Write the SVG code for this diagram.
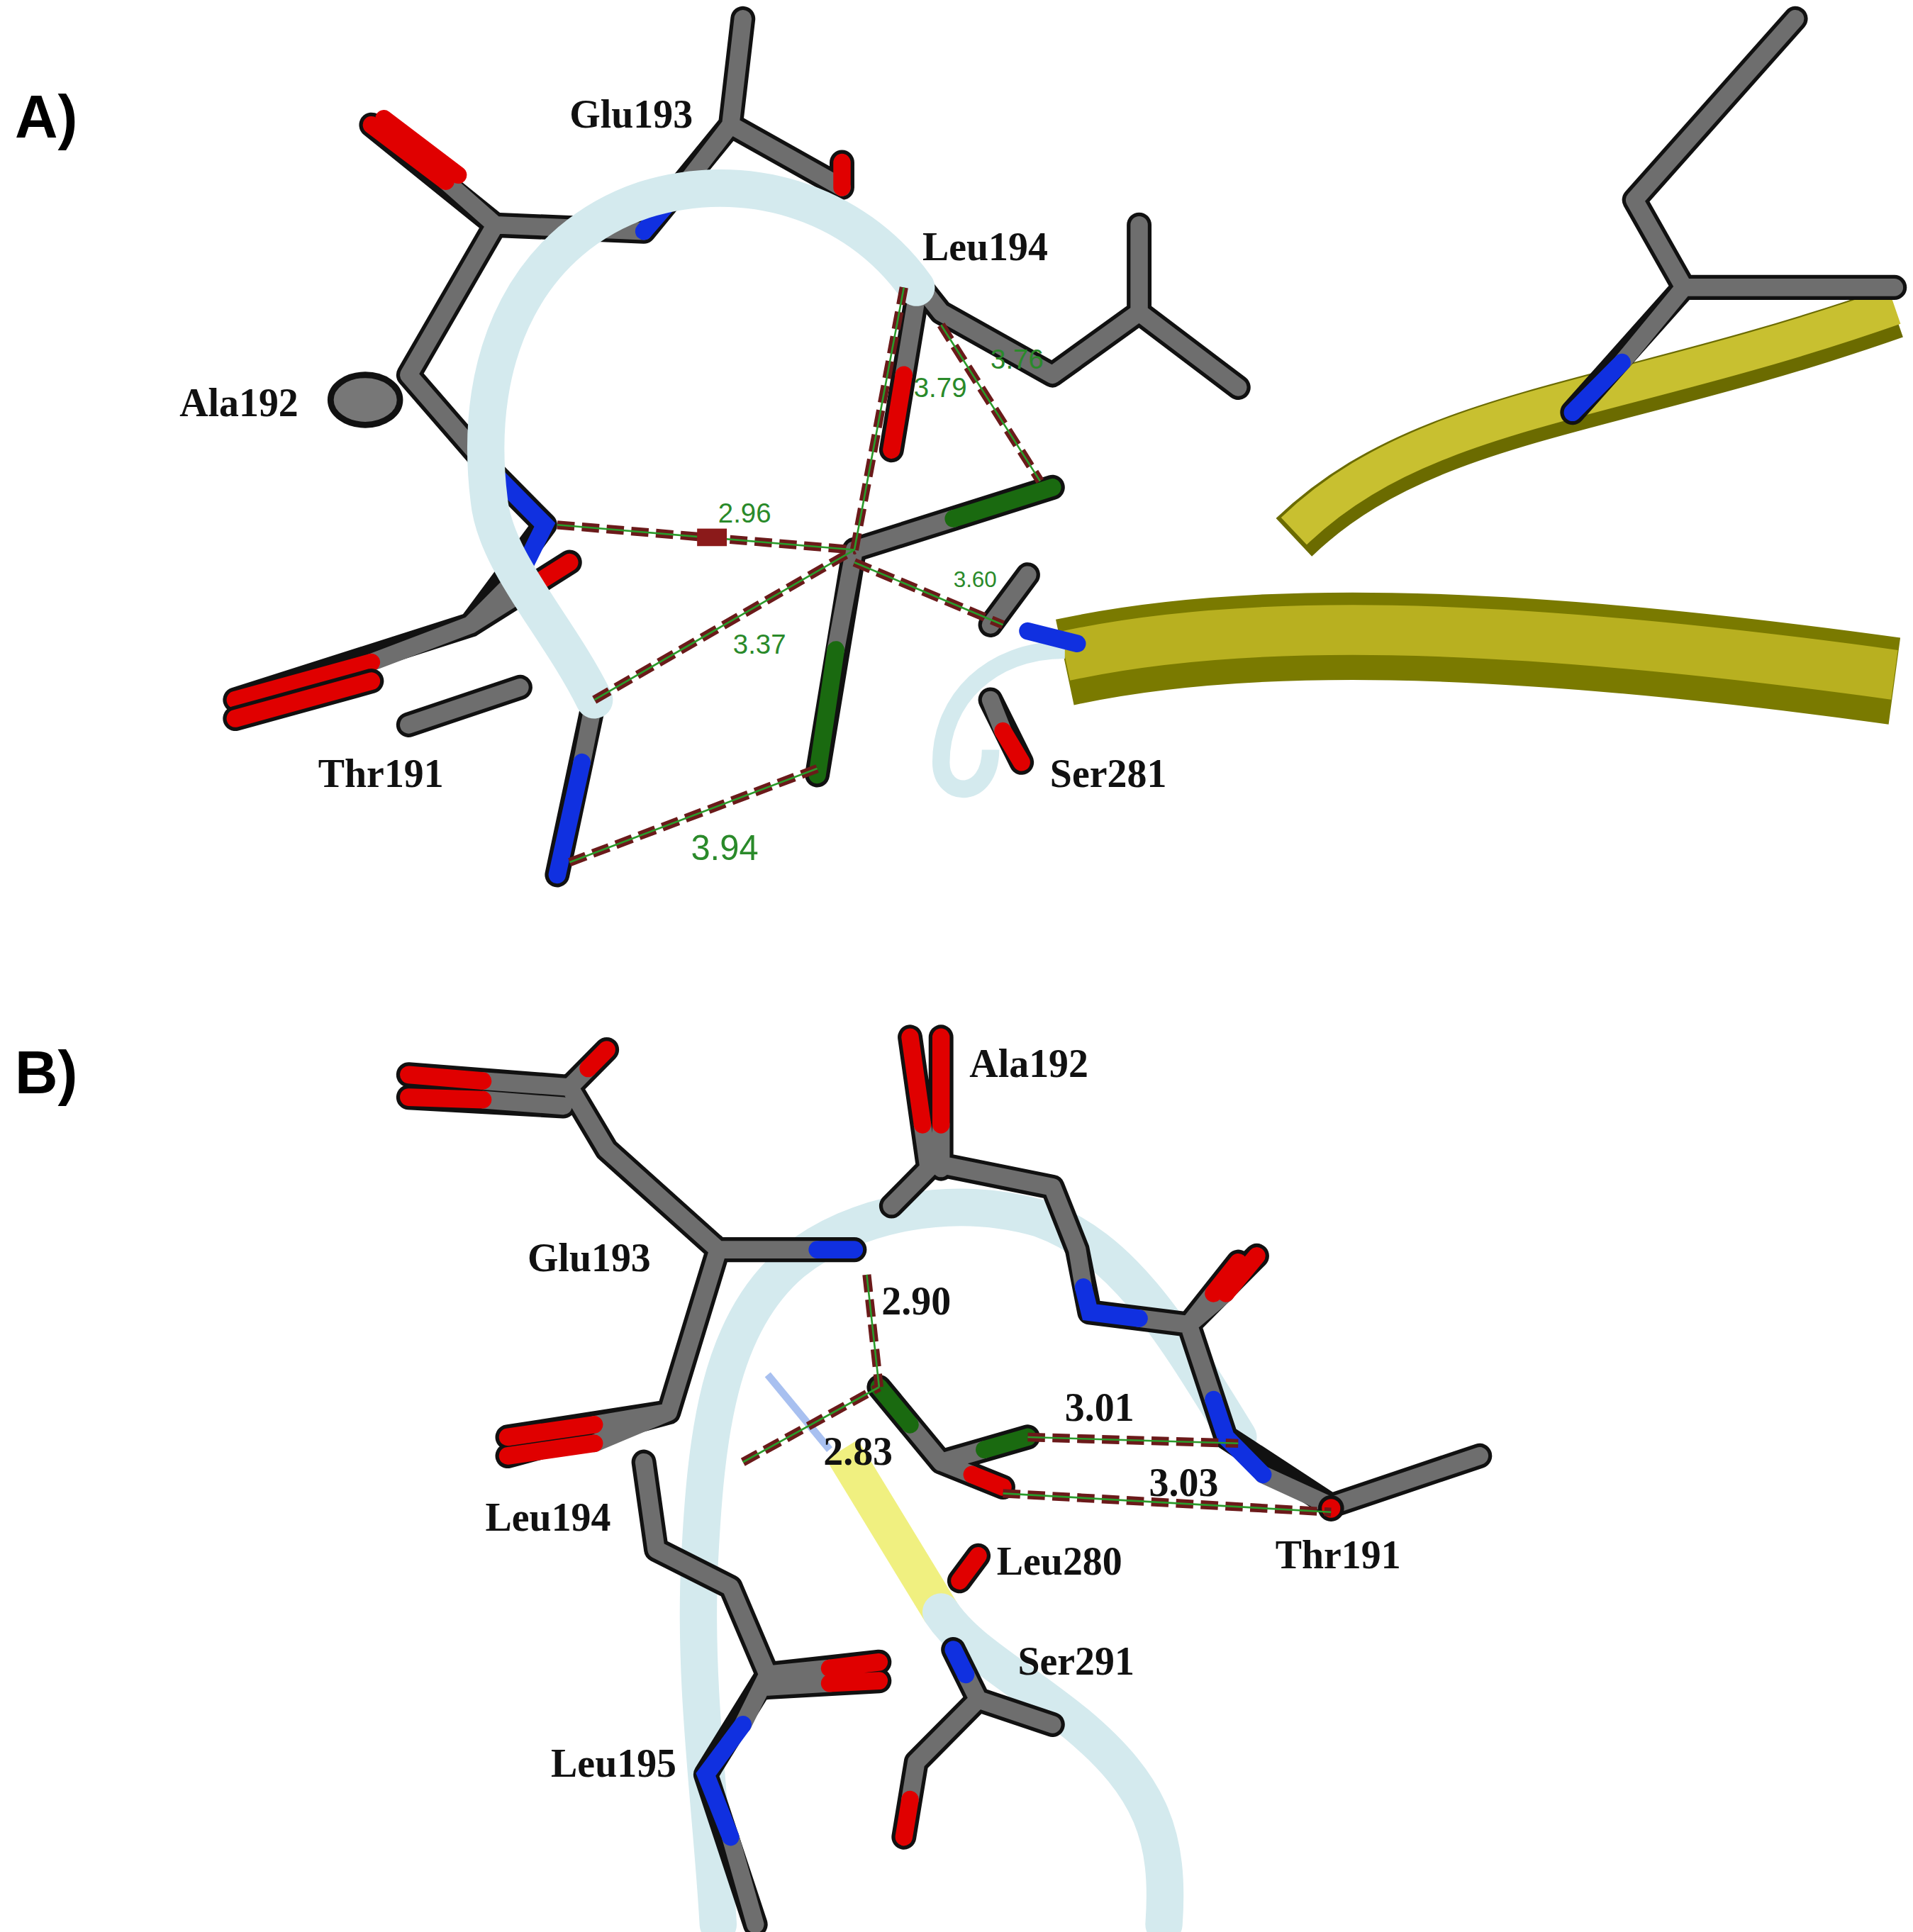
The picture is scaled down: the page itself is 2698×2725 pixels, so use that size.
<svg xmlns="http://www.w3.org/2000/svg" width="2698" height="2725" viewBox="0 0 2698 2725">
<style>
.o{fill:none;stroke:#111;stroke-width:20;stroke-linecap:round;stroke-linejoin:round}
.g{fill:none;stroke:#6e6e6e;stroke-width:14;stroke-linecap:round;stroke-linejoin:round}
.r{fill:none;stroke:#e00000;stroke-width:14;stroke-linecap:round}
.b{fill:none;stroke:#1030e0;stroke-width:14;stroke-linecap:round}
.gr{fill:none;stroke:#1a6a10;stroke-width:14;stroke-linecap:round}
.rib{fill:none;stroke:#d4eaee;stroke-width:30;stroke-linecap:round}
.d{stroke:#6b1a1a;stroke-width:7;stroke-dasharray:14 6;fill:none}
.t{stroke:#2a9a2a;stroke-width:1.5;fill:none}
.lab{font-family:"Liberation Serif",serif;font-weight:bold;font-size:32px;fill:#111}
.num{font-family:"Liberation Sans",sans-serif;font-size:22px;fill:#2a8a2a}
.numb{font-family:"Liberation Serif",serif;font-weight:bold;font-size:32px;fill:#111}
.pan{font-family:"Liberation Sans",sans-serif;font-weight:bold;font-size:48px;fill:#000}
</style>
<rect width="2698" height="2725" fill="#fff"/>
<g transform="scale(1.7463,1.7626)">
<text class="pan" x="12" y="110">A)</text>
<text class="pan" x="12" y="875">B)</text>
<!-- Panel A -->
<g id="ribbonsA">
<path d="M1045,430 C1150,330 1300,330 1530,250" stroke="#6b6b00" stroke-width="42" fill="none"/>
<path d="M1045,425 C1150,325 1300,325 1530,245" stroke="#c8c030" stroke-width="30" fill="none"/>
<path d="M860,530 C1000,500 1200,500 1530,545" stroke="#7a7a00" stroke-width="70" fill="none"/>
<path d="M860,525 C1000,495 1200,495 1530,540" stroke="#b8b020" stroke-width="40" fill="none"/>
<path d="M860,520 C800,520 760,560 760,610 C760,640 800,640 800,600" stroke="#d4eaee" stroke-width="14" fill="none"/>
</g>
<g id="sticksA">
<path class="o" d="M600,15 L590,100 L520,185 M590,100 L680,150 L680,130 M400,180 L520,185 M400,180 L300,100 M400,180 L330,300 L400,380 L440,420 M440,420 L380,500 L190,560 M380,500 L460,450 M480,560 L450,700 M330,580 L420,550 M720,200 L760,250 L850,300 L920,250 L1000,310 M920,250 L920,180 M740,240 L720,360 M690,440 L850,390 M690,440 L660,620 M800,500 L830,460 M800,560 L825,610 M1450,15 L1320,160 L1360,230 L1270,330 M1360,230 L1530,230"/>
<path class="g" d="M600,15 L590,100 L555,145 M590,100 L680,150 M400,180 L520,185 M400,180 L360,145 M400,180 L330,300 L400,380 M420,460 L380,500 L300,530 M380,500 L420,475 M480,560 L470,610 M330,580 L420,550 M740,225 L760,250 L850,300 L920,250 L1000,310 M920,250 L920,180 M740,240 L730,300 M690,440 L770,415 M690,440 L675,520 M800,500 L830,460 M800,560 L810,585 M1450,15 L1320,160 L1360,230 L1310,290 M1360,230 L1530,230"/>
<path class="b" d="M555,145 L520,185 M400,380 L440,420 L420,460 M470,610 L450,700 M720,200 L740,225 M1310,290 L1270,330 M870,515 L830,505"/>
<path class="r" d="M360,145 L300,100 M680,150 L680,130 M300,530 L190,560 M420,475 L460,450 M730,300 L720,360 M810,585 L825,610"/>
<path d="M370,140 L310,95" stroke="#e00000" stroke-width="14" stroke-linecap="round"/>
<path d="M300,545 L190,575" class="o"/><path d="M300,545 L190,575" class="r"/>
<path class="gr" d="M770,415 L850,390 M675,520 L660,620"/>
<ellipse cx="295" cy="320" rx="28" ry="20" fill="#777" stroke="#111" stroke-width="5"/>
</g>
<path id="ribbonA" class="rib" d="M480,560 C450,500 400,450 395,400 C380,280 430,190 520,160 C600,135 690,160 740,230"/>
<g id="connectorsA">
<path class="d" d="M450,420 L690,440 M480,560 L690,440 M460,690 L660,615 M730,230 L690,440 M760,260 L840,385 M690,450 L810,500"/>
<path class="t" d="M450,420 L690,440 M480,560 L690,440 M460,690 L660,615 M730,230 L690,440 M760,260 L840,385 M690,450 L810,500"/>
<rect x="563" y="423" width="24" height="14" fill="#8b1a1a"/>
</g>
<g id="labelsA">
<text class="lab" x="460" y="102">Glu193</text>
<text class="lab" x="745" y="208">Leu194</text>
<text class="lab" x="145" y="333">Ala192</text>
<text class="lab" x="257" y="630">Thr191</text>
<text class="lab" x="848" y="630">Ser281</text>
<text class="num" x="580" y="418">2.96</text>
<text class="num" x="592" y="523">3.37</text>
<text class="num" x="558" y="688" style="font-size:28px">3.94</text>
<text class="num" x="738" y="318">3.79</text>
<text class="num" x="800" y="295">3.76</text>
<text class="num" x="770" y="470" style="font-size:18px">3.60</text>
</g>
<!-- Panel B -->
<g id="ribbonsB">
<path class="rib" d="M580,1540 C575,1450 560,1350 565,1250 C570,1150 580,1060 640,1010 C690,970 770,955 840,975 C910,1000 950,1070 1000,1150"/>
<path d="M620,1100 L670,1160" stroke="#a8c0f0" stroke-width="6" fill="none"/>
<path d="M680,1160 L760,1290" stroke="#f0f080" stroke-width="30" fill="none"/>
<path class="rib" d="M940,1540 C945,1470 930,1430 870,1380 C820,1340 780,1320 760,1290"/>
</g>
<g id="sticksB">
<path class="o" d="M330,860 L460,870 L490,840 M330,878 L455,885 M460,870 L490,920 L580,1000 L690,1000 M580,1000 L540,1130 L410,1150 M540,1130 L410,1165 M735,830 L750,935 L720,965 M760,830 L760,935 M750,930 L850,950 L870,1000 L880,1050 L960,1060 L1000,1010 M960,1060 L1015,1005 M960,1060 L990,1150 L1075,1205 L1195,1165 M710,1110 L760,1170 L830,1150 M760,1170 L810,1190 M520,1170 L530,1240 L590,1270 L620,1340 L710,1330 M620,1350 L710,1345 M620,1340 L570,1420 L610,1540 M770,1320 L790,1360 L740,1410 L730,1470 M790,1360 L850,1380 M775,1265 L790,1245"/>
<path class="g" d="M390,865 L460,870 L475,855 M390,880 L455,885 M460,870 L490,920 L580,1000 L660,1000 M580,1000 L540,1130 L480,1140 M540,1130 L480,1155 M745,900 L750,935 L720,965 M760,900 L760,935 M750,930 L850,950 L870,1000 L875,1030 M920,1055 L960,1060 L980,1035 M960,1060 L990,1035 M960,1060 L980,1120 M1020,1180 L1075,1205 L1195,1165 M735,1140 L760,1170 L795,1160 M760,1170 L785,1180 M520,1170 L530,1240 L590,1270 L620,1340 L670,1335 M620,1350 L670,1347 M620,1340 L600,1380 M590,1470 L610,1540 M780,1340 L790,1360 L740,1410 L735,1440 M790,1360 L850,1380"/>
<path class="r" d="M390,865 L330,860 M390,880 L330,878 M475,855 L490,840 M480,1140 L410,1150 M480,1155 L410,1165 M745,900 L735,830 M760,900 L760,830 M980,1035 L1000,1010 M990,1035 L1015,1005 M670,1335 L710,1330 M670,1347 L710,1345 M735,1440 L730,1470 M785,1180 L810,1190 M775,1265 L790,1245"/>
<path class="b" d="M660,1000 L690,1000 M875,1030 L880,1050 L920,1055 M980,1120 L990,1150 L1020,1180 M600,1380 L570,1420 L590,1470 M770,1320 L780,1340"/>
<path class="gr" d="M710,1110 L735,1140 M795,1160 L830,1150"/>
<circle cx="1075" cy="1207" r="9" fill="#e00000" stroke="#111" stroke-width="3"/>
</g>
<g id="connectorsB">
<path class="d" d="M700,1020 L710,1110 M600,1170 L710,1110 M830,1150 L1000,1155 M810,1195 L1075,1210"/>
<path class="t" d="M700,1020 L710,1110 M600,1170 L710,1110 M830,1150 L1000,1155 M810,1195 L1075,1210"/>
</g>
<g id="labelsB">
<text class="lab" x="783" y="862">Ala192</text>
<text class="lab" x="426" y="1017">Glu193</text>
<text class="lab" x="392" y="1225">Leu194</text>
<text class="lab" x="805" y="1260">Leu280</text>
<text class="lab" x="1030" y="1255">Thr191</text>
<text class="lab" x="822" y="1340">Ser291</text>
<text class="lab" x="445" y="1422">Leu195</text>
<text class="numb" x="712" y="1052">2.90</text>
<text class="numb" x="665" y="1172">2.83</text>
<text class="numb" x="860" y="1137">3.01</text>
<text class="numb" x="928" y="1197">3.03</text>
</g>
</g>
</svg>
